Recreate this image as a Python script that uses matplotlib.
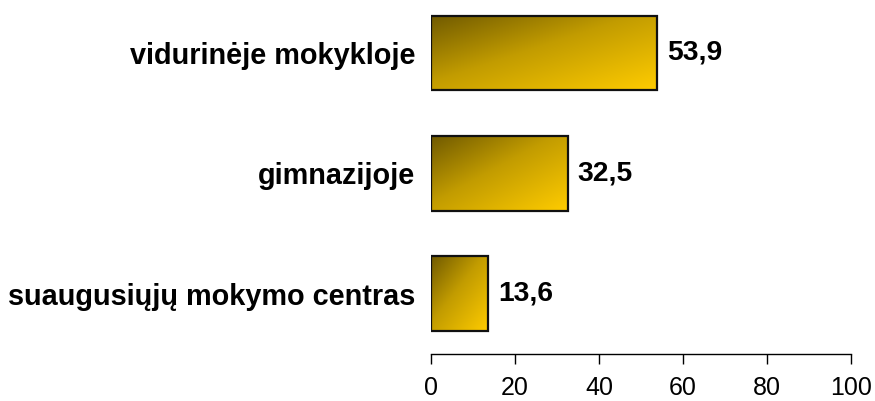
import numpy as np
import matplotlib
matplotlib.use("Agg")
import matplotlib.pyplot as plt
from matplotlib.colors import LinearSegmentedColormap

categories = ["suaugusiųjų mokymo centras", "gimnazijoje", "vidurinėje mokykloje"]
values = [13.6, 32.5, 53.9]
value_labels = ["13,6", "32,5", "53,9"]
xticks = [0, 20, 40, 60, 80, 100]

plt.rcParams['font.family'] = ['Liberation Sans', 'DejaVu Sans']

fig = plt.figure(figsize=(8.75, 4.01), dpi=100)
ax = fig.add_axes([431/875, 1 - 354/401, 420/875, 354/401])

cmap = LinearSegmentedColormap.from_list(
    "gold", [(0.0, "#705a00"), (0.45, "#c29c00"), (1.0, "#ffcc00")])
ypos = np.arange(len(categories))
bars = ax.barh(ypos, values, height=0.62, color="none", edgecolor="#111111", linewidth=1.6, zorder=3)

gx, gy = np.meshgrid(np.linspace(0, 1, 200), np.linspace(0, 1, 200))
grad = (gx + gy) / 2.0  # 0 at top-left, 1 at bottom-right (origin upper)
for b in bars:
    x0, y0 = b.get_x(), b.get_y()
    w, h = b.get_width(), b.get_height()
    im = ax.imshow(grad, cmap=cmap, extent=(x0, x0 + w, y0, y0 + h), origin="upper",
                   aspect="auto", zorder=2, interpolation="bilinear")
    im.set_clip_path(b)

for yp, v, lab in zip(ypos, values, value_labels):
    ax.text(v + 2.4, yp, lab, va="center", ha="left", fontsize=20.3, fontweight="bold")

ax.set_xlim(0, 100)
ax.set_ylim(-0.5, 2.44)
ax.set_xticks(xticks)
ax.set_xticklabels([str(t) for t in xticks], fontsize=18)
ax.set_yticks(ypos)
ax.set_yticklabels(categories, fontsize=20.8, fontweight="bold")
ax.tick_params(axis="y", length=0, pad=11.5)
ax.tick_params(axis="x", length=7, width=1, pad=9)
for s in ["top", "right", "left"]:
    ax.spines[s].set_visible(False)
ax.spines["bottom"].set_linewidth(1)

fig.savefig("out.png", dpi=100)
